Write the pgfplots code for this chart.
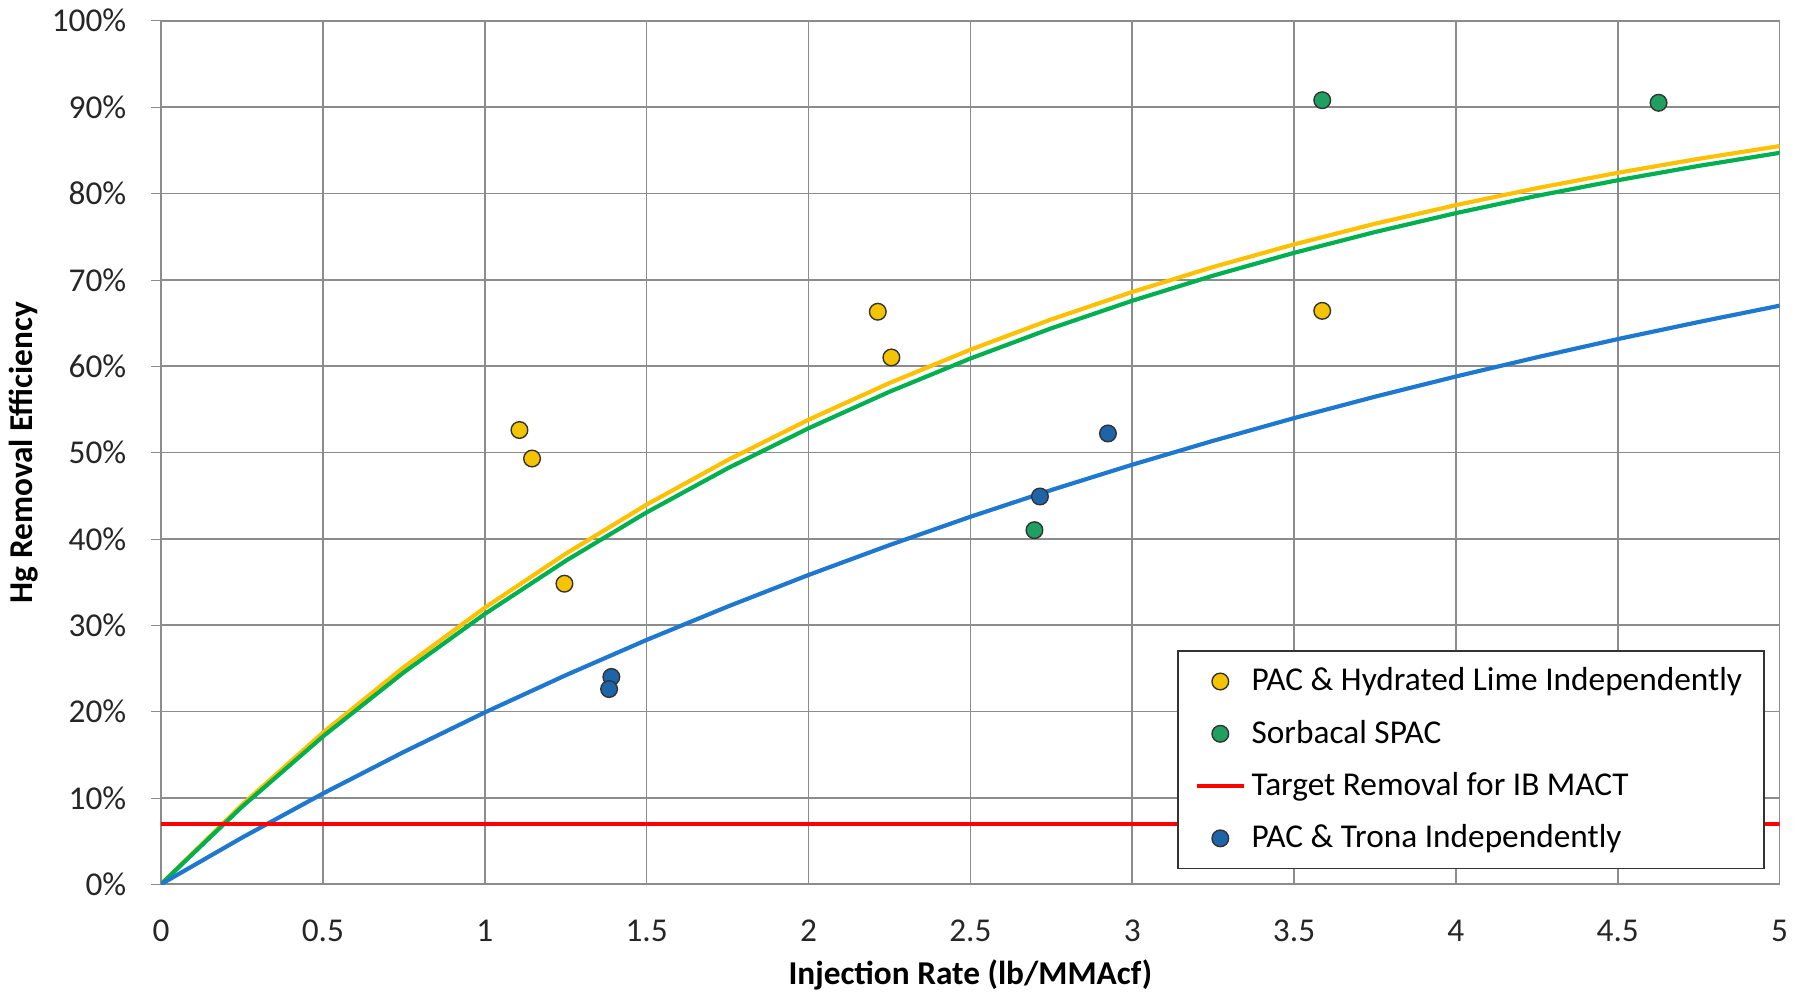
\documentclass[border=0pt]{standalone}
\usepackage{fontspec}
\setmainfont{Carlito}
\usepackage{pgfplots}
\pgfplotsset{compat=1.18}

\definecolor{ylwline}{HTML}{FFC000}
\definecolor{ylwmark}{HTML}{F5C400}
\definecolor{grnline}{HTML}{00B050}
\definecolor{grnmark}{HTML}{1FA060}
\definecolor{bluline}{HTML}{1F78D0}
\definecolor{blumark}{HTML}{1E64A8}
\definecolor{tgtred}{HTML}{FF0000}

\begin{document}
\begin{tikzpicture}
\begin{axis}[
  scale only axis, width=583pt, height=311pt,
  xmin=0, xmax=5, ymin=0, ymax=100,
  xtick={0,0.5,...,5}, ytick={0,10,...,100},
  xticklabels={0,0.5,1,1.5,2,2.5,3,3.5,4,4.5,5},
  yticklabel={\pgfmathprintnumber{\tick}\%},
  /pgf/number format/assume math mode=true,
  grid=major, grid style={black!45, line width=0.6pt},
  axis line style={black!45, line width=0.6pt},
  tick style={black!45}, major tick length=3.5pt,
  xtick pos=bottom, ytick pos=left, tick align=outside,
  xtick style={draw=none},
  tick label style={font=\fontsize{12}{14}\selectfont, text=black!85},
  yticklabel style={xshift=-5.5pt},
  xticklabel style={yshift=-6pt},
  xlabel={\textbf{Injection Rate (lb/MMAcf)}},
  ylabel={\textbf{Hg Removal Efficiency}},
  label style={font=\fontsize{12}{14}\selectfont},
  xlabel style={yshift=0.5pt}, ylabel style={yshift=-2pt},
  legend cell align=left,
  legend style={at={(0.991,0.017)}, anchor=south east, draw=black!80, line width=0.6pt,
    font=\fontsize{12}{14}\selectfont, row sep=5pt, inner xsep=6pt, inner ysep=4pt},
  mark size=3pt,
]
% fitted curves (not in legend)
\addplot[ylwline, line width=1.5pt, forget plot] coordinates {(0,0) (0.25,9.20) (0.5,17.55) (0.75,25.14) (1,32.02) (1.25,38.27) (1.5,43.96) (1.75,49.11) (2,53.79) (2.25,58.04) (2.5,61.90) (2.75,65.41) (3,68.59) (3.25,71.48) (3.5,74.10) (3.75,76.49) (4,78.65) (4.25,80.61) (4.5,82.39) (4.75,84.01) (5,85.49)};
\addplot[grnline, line width=1.5pt, forget plot] coordinates {(0,0) (0.25,8.96) (0.5,17.11) (0.75,24.54) (1,31.30) (1.25,37.45) (1.5,43.06) (1.75,48.16) (2,52.80) (2.25,57.03) (2.5,60.88) (2.75,64.38) (3,67.57) (3.25,70.48) (3.5,73.12) (3.75,75.53) (4,77.72) (4.25,79.72) (4.5,81.53) (4.75,83.19) (5,84.70)};
\addplot[bluline, line width=1.5pt, forget plot] coordinates {(0,0) (0.25,5.39) (0.5,10.50) (0.75,15.32) (1,19.89) (1.25,24.20) (1.5,28.29) (1.75,32.15) (2,35.81) (2.25,39.27) (2.5,42.55) (2.75,45.65) (3,48.58) (3.25,51.35) (3.5,53.98) (3.75,56.46) (4,58.80) (4.25,61.02) (4.5,63.13) (4.75,65.11) (5,67.00)};
% measured points
\addplot[only marks, mark=*, mark options={fill=ylwmark, draw=black!80, line width=0.5pt}] coordinates {(1.107,52.6) (1.146,49.3) (1.246,34.8) (2.214,66.3) (2.256,61.0) (3.587,66.4)};
\addlegendentry{PAC \& Hydrated Lime Independently}
\addplot[only marks, mark=*, mark options={fill=grnmark, draw=black!80, line width=0.5pt}] coordinates {(3.587,90.8) (4.626,90.5) (2.698,41.0)};
\addlegendentry{Sorbacal SPAC}
\addplot[tgtred, line width=1.5pt] coordinates {(0,7) (5,7)};
\addlegendentry{Target Removal for IB MACT}
\addplot[only marks, mark=*, mark options={fill=blumark, draw=black!80, line width=0.5pt}] coordinates {(1.391,24.0) (1.384,22.6) (2.715,44.9) (2.925,52.2)};
\addlegendentry{PAC \& Trona Independently}
\end{axis}
\path (current axis.east) -- ++(9.5pt,0);
\end{tikzpicture}
\end{document}
